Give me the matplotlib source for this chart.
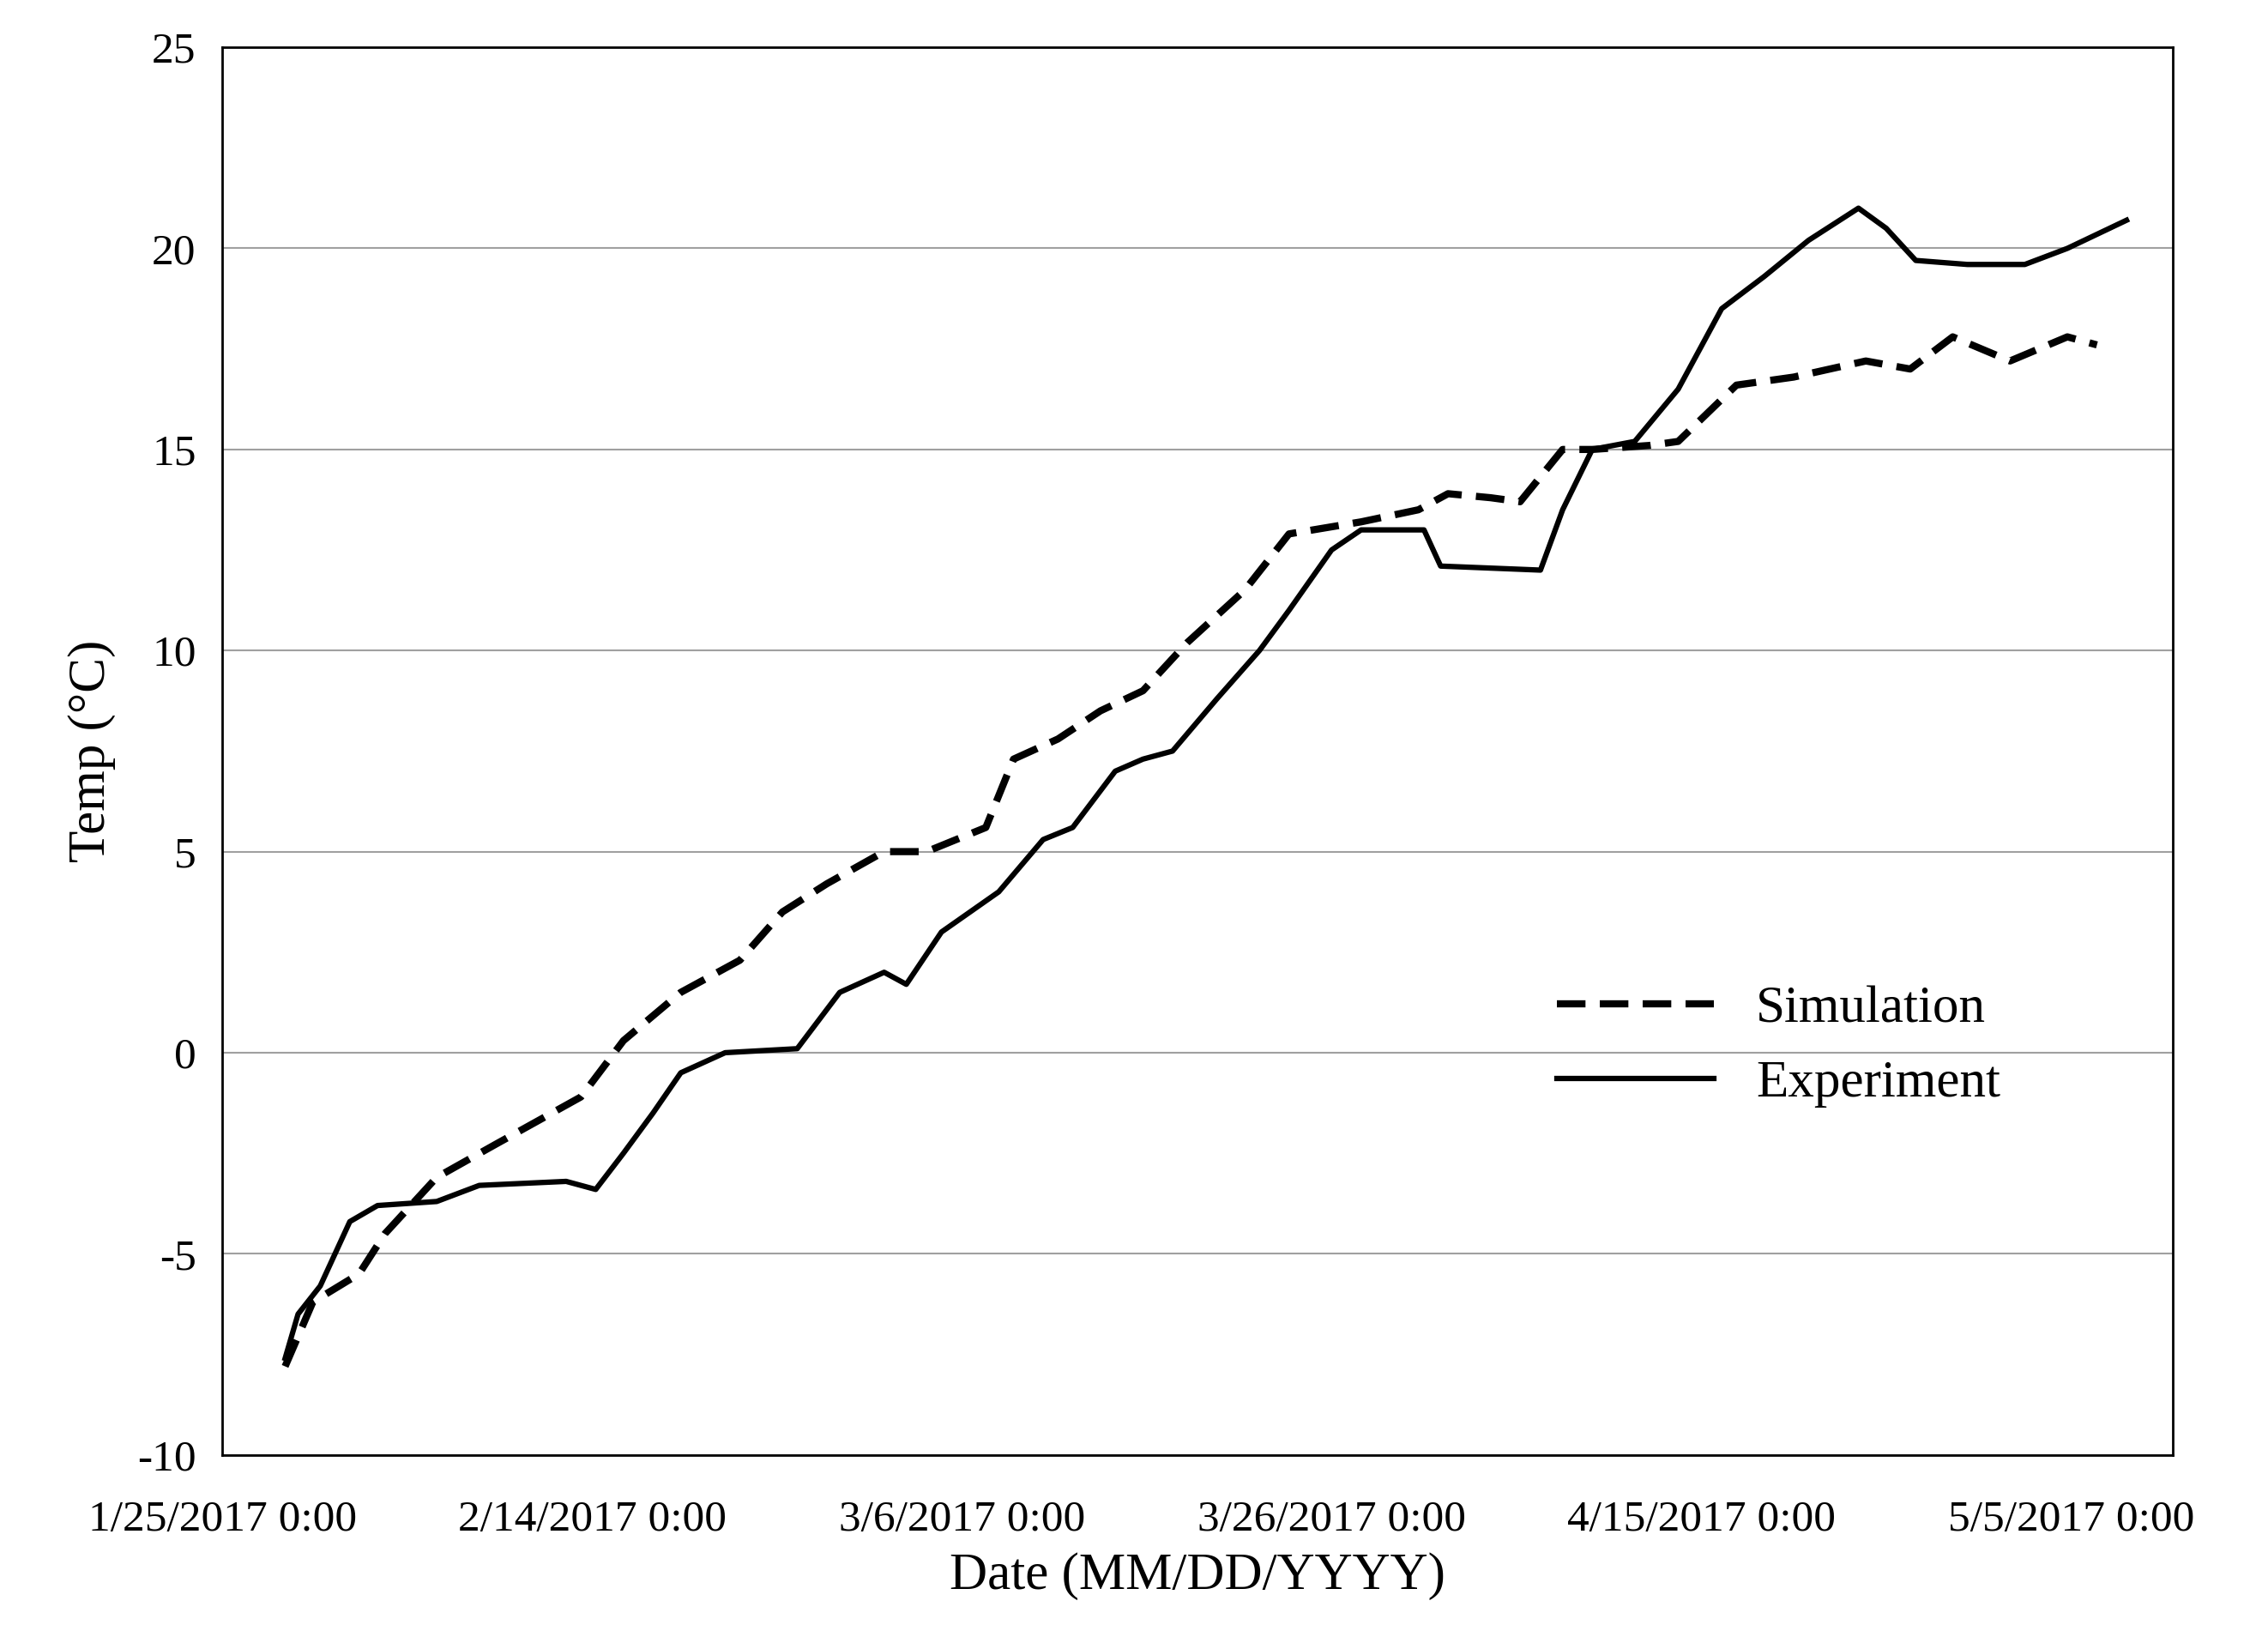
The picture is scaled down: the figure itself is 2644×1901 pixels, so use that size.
import datetime
import matplotlib
matplotlib.use("Agg")
import matplotlib.pyplot as plt
import matplotlib.dates as mdates

start = datetime.datetime(2017, 1, 25)

# days after 1/25/2017 and temperature (C)
exp_days = [3.4, 4.1, 5.3, 6.9, 8.4, 11.6, 13.9, 18.6, 20.2, 21.7, 23.3, 24.8, 27.2, 31.1, 33.4,
            35.8, 37.0, 38.9, 42.0, 44.4, 46.0, 48.3, 49.8, 51.4, 53.8, 56.1, 57.7, 60.0, 61.6,
            65.0, 65.9, 71.3, 72.5, 74.1, 76.4, 78.75, 81.1, 83.4, 85.8, 88.5, 90.0, 91.6, 94.4,
            97.5, 99.8, 103.0]
exp_temp = [-7.6, -6.5, -5.8, -4.2, -3.8, -3.7, -3.3, -3.2, -3.4, -2.5, -1.5, -0.5, 0.0, 0.1, 1.5,
            2.0, 1.7, 3.0, 4.0, 5.3, 5.6, 7.0, 7.3, 7.5, 8.8, 10.0, 11.0, 12.5, 13.0,
            13.0, 12.1, 12.0, 13.5, 15.0, 15.2, 16.5, 18.5, 19.3, 20.2, 21.0, 20.5, 19.7, 19.6,
            19.6, 20.0, 20.7]

sim_days = [3.4, 4.9, 7.4, 8.8, 11.6, 14.7, 19.4, 21.7, 24.8, 28.0, 30.3, 32.7, 35.8, 38.1, 41.3,
            42.8, 45.2, 47.5, 49.8, 52.2, 55.3, 57.7, 61.6, 64.7, 66.3, 68.6, 70.2, 72.5, 74.1,
            77.2, 78.75, 81.9, 85.0, 88.9, 91.3, 93.6, 96.7, 99.8, 101.4]
sim_temp = [-7.8, -6.2, -5.5, -4.5, -3.1, -2.3, -1.1, 0.3, 1.5, 2.3, 3.5, 4.2, 5.0, 5.0, 5.6,
            7.3, 7.8, 8.5, 9.0, 10.2, 11.5, 12.9, 13.2, 13.5, 13.9, 13.8, 13.7, 15.0, 15.0,
            15.1, 15.2, 16.6, 16.8, 17.2, 17.0, 17.8, 17.2, 17.8, 17.6]

exp_dates = [start + datetime.timedelta(days=d) for d in exp_days]
sim_dates = [start + datetime.timedelta(days=d) for d in sim_days]

plt.rcParams['font.family'] = ['Liberation Serif', 'DejaVu Serif']
plt.rcParams['axes.unicode_minus'] = False

fig = plt.figure(figsize=(26.44, 19.01), dpi=100)
ax = fig.add_axes([0.098, 0.108, 0.86, 0.863])

ax.plot(sim_dates, sim_temp, color='black', lw=6, dashes=(4, 2), label='Simulation')
ax.plot(exp_dates, exp_temp, color='black', lw=4.5, label='Experiment')

ax.set_ylim(-10, 25)
ax.set_yticks(range(-10, 26, 5))
ax.set_xlim(start, start + datetime.timedelta(days=105.5))
ax.set_xticks([start + datetime.timedelta(days=20 * i) for i in range(6)])
ax.xaxis.set_major_formatter(mdates.DateFormatter('%-m/%-d/%Y %-H:%M'))
ax.yaxis.grid(True, color='#a0a0a0', lw=1.5)
ax.tick_params(labelsize=37, length=0)
ax.tick_params(axis='x', pad=38)
ax.tick_params(axis='y', pad=22)
for s in ax.spines.values():
    s.set_linewidth(2)

ax.set_xlabel('Date (MM/DD/YYYY)', fontsize=44, labelpad=10)
ax.set_ylabel('Temp (°C)', fontsize=44, labelpad=18)

ax.legend(loc='center left', bbox_to_anchor=(0.66, 0.29), frameon=False, fontsize=44,
          handlelength=3.0, labelspacing=0.5)

fig.savefig('out.png', dpi=100)
